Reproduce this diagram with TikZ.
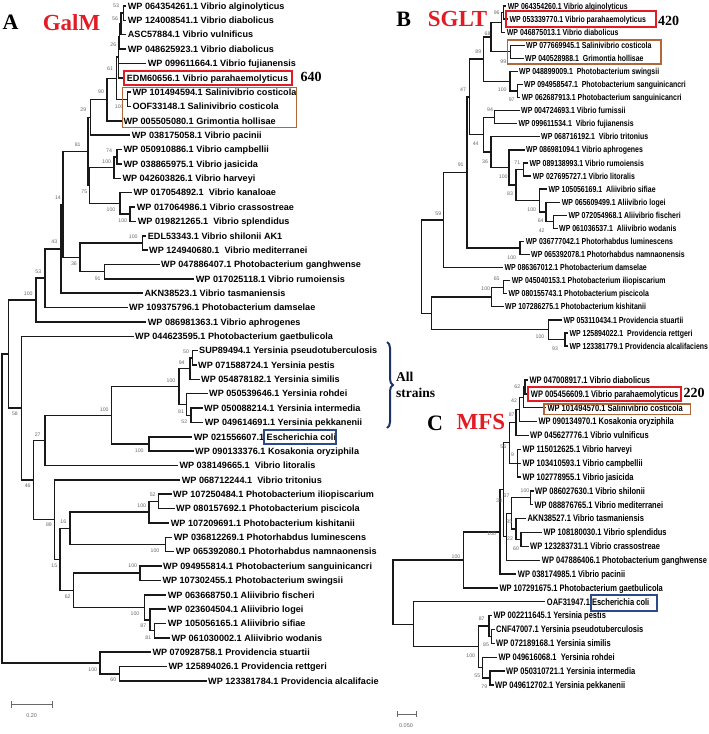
\documentclass[tikz,border=0pt]{standalone}
\usepackage{fontspec}
\setmainfont{Liberation Sans}
\newfontfamily\narrowfont[FakeStretch=0.8]{Liberation Sans}
\newfontfamily\titlefont{Liberation Serif}
\usetikzlibrary{arrows,decorations.pathreplacing}

\definecolor{galred}{RGB}{226,28,36}
\definecolor{boxbrown}{RGB}{176,104,56}
\definecolor{boxblue}{RGB}{44,74,138}
\definecolor{bracenavy}{RGB}{28,50,98}
\definecolor{bootgray}{RGB}{105,105,105}
\definecolor{treeline}{RGB}{25,25,25}

\begin{document}
\begin{tikzpicture}[x=1pt,y=-1pt]
    \tikzset{
      leafa/.style={anchor=west,inner xsep=2pt,inner ysep=0pt,text height=6.5pt,text depth=0pt,font=\fontsize{9.1}{10}\selectfont\bfseries},
      leafb/.style={leafa,text height=6.2pt,font=\narrowfont\bfseries\fontsize{8.7}{10}\selectfont},
      leafc/.style={leafa,text height=6.7pt,font=\narrowfont\bfseries\fontsize{9.4}{10}\selectfont},
      boot/.style={inner sep=0pt,text=bootgray,font=\fontsize{5.2}{6}\selectfont},
      brancha/.style={draw=treeline,line width=1.5pt,line cap=rect},
      branchb/.style={brancha,line width=1.3pt},
      redbox/.style={draw=galred,line width=2pt},
      brownbox/.style={draw=boxbrown,line width=1.2pt},
      bluebox/.style={draw=boxblue,line width=2pt},
      paneltitle/.style={inner sep=0pt,font=\titlefont\bfseries\fontsize{22}{22}\selectfont},
      genetitle/.style={inner sep=0pt,text=galred,font=\titlefont\bfseries\fontsize{23}{23}\selectfont},
      countnum/.style={inner sep=0pt,font=\titlefont\bfseries\fontsize{14}{14}\selectfont},
      strains/.style={anchor=west,inner sep=0pt,align=left,font=\titlefont\bfseries\fontsize{13.5}{16}\selectfont},
      scalebar/.style={|-|,draw=bootgray,line width=0.6pt},
      scaletext/.style={inner sep=0pt,text=bootgray,font=\fontsize{5.5}{6}\selectfont}
    }
    \useasboundingbox (0,0) rectangle (709,734);

    % panel A: GalM
    \node[paneltitle](tA) at (10.5,22){A};
    \node[genetitle](tGalM) at (71.5,23){GalM};

    \node[leafa](la1) at (125.7,6){WP 064354261.1 Vibrio alginolyticus};
    \node[leafa](la2) at (125.7,20.4){WP 124008541.1 Vibrio diabolicus};
    \node[leafa](la3) at (125.7,34.7){ASC57884.1 Vibrio vulnificus};
    \node[leafa](la4) at (125.7,49.1){WP 048625923.1 Vibrio diabolicus};
    \node[leafa](la5) at (145.7,63.4){WP 099611664.1 Vibrio fujianensis};
    \node[leafa](la6) at (124.7,77.8){EDM60656.1 Vibrio parahaemolyticus};
    \node[leafa](la7) at (130.3,92.2){WP 101494594.1 Salinivibrio costicola};
    \node[leafa](la8) at (130.3,106.5){OOF33148.1 Salinivibrio costicola};
    \node[leafa](la9) at (121.3,120.9){WP 005505080.1 Grimontia hollisae};
    \node[leafa](la10) at (129.7,135.2){WP 038175058.1 Vibrio pacinii};
    \node[leafa](la11) at (121.3,149.6){WP 050910886.1 Vibrio campbellii};
    \node[leafa](la12) at (121.3,164){WP 038865975.1 Vibrio jasicida};
    \node[leafa](la13) at (120.3,178.3){WP 042603826.1 Vibrio harveyi};
    \node[leafa](la14) at (131.3,192.7){WP 017054892.1\ \ Vibrio kanaloae};
    \node[leafa](la15) at (134.7,207){WP 017064986.1 Vibrio crassostreae};
    \node[leafa](la16) at (135.7,221.4){WP 019821265.1\ \ Vibrio splendidus};
    \node[leafa](la17) at (145.7,235.8){EDL53343.1 Vibrio shilonii AK1};
    \node[leafa](la18) at (147,250.1){WP 124940680.1\ \ Vibrio mediterranei};
    \node[leafa](la19) at (159,264.5){WP 047886407.1 Photobacterium ganghwense};
    \node[leafa](la20) at (193.7,278.8){WP 017025118.1 Vibrio rumoiensis};
    \node[leafa](la21) at (142.3,293.2){AKN38523.1 Vibrio tasmaniensis};
    \node[leafa](la22) at (127,307.6){WP 109375796.1 Photobacterium damselae};
    \node[leafa](la23) at (145.7,321.9){WP 086981363.1 Vibrio aphrogenes};
    \node[leafa](la24) at (133,336.3){WP 044623595.1 Photobacterium gaetbulicola};
    \node[leafa](la25) at (197,350.6){SUP89494.1 Yersinia pseudotuberculosis};
    \node[leafa](la26) at (196,365){WP 071588724.1 Yersinia pestis};
    \node[leafa](la27) at (199,379.4){WP 054878182.1 Yersinia similis};
    \node[leafa](la28) at (207,393.7){WP 050539646.1 Yersinia rohdei};
    \node[leafa](la29) at (202,408.1){WP 050088214.1 Yersinia intermedia};
    \node[leafa](la30) at (202.7,422.4){WP 049614691.1 Yersinia pekkanenii};
    \node[leafa](la31) at (191.7,436.8){WP 021556607.1 Escherichia coli};
    \node[leafa](la32) at (193,451.2){WP 090133376.1 Kosakonia oryziphila};
    \node[leafa](la33) at (177.3,465.5){WP 038149665.1\ \ Vibrio litoralis};
    \node[leafa](la34) at (179.7,479.9){WP 068712244.1\ \ Vibrio tritonius};
    \node[leafa](la35) at (171,494.2){WP 107250484.1 Photobacterium iliopiscarium};
    \node[leafa](la36) at (174,508.6){WP 080157692.1 Photobacterium piscicola};
    \node[leafa](la37) at (168.7,523){WP 107209691.1 Photobacterium kishitanii};
    \node[leafa](la38) at (171.7,537.3){WP 036812269.1 Photorhabdus luminescens};
    \node[leafa](la39) at (173.7,551.7){WP 065392080.1 Photorhabdus namnaonensis};
    \node[leafa](la40) at (161,566){WP 094955814.1 Photobacterium sanguinicancri};
    \node[leafa](la41) at (160.3,580.4){WP 107302455.1 Photobacterium swingsii};
    \node[leafa](la42) at (165.7,594.8){WP 063668750.1 Aliivibrio fischeri};
    \node[leafa](la43) at (165.7,609.1){WP 023604504.1 Aliivibrio logei};
    \node[leafa](la44) at (165.7,623.5){WP 105056165.1 Aliivibrio sifiae};
    \node[leafa](la45) at (169.3,637.8){WP 061030002.1 Aliivibrio wodanis};
    \node[leafa](la46) at (150.3,652.2){WP 070928758.1 Providencia stuartii};
    \node[leafa](la47) at (166.3,666.6){WP 125894026.1 Providencia rettgeri};
    \node[leafa](la48) at (206,680.9){WP 123381784.1 Providencia alcalifacie};

    \coordinate (a12) at (123.3,13.2);
    \coordinate (a123) at (121,24);
    \coordinate (a1234) at (119.5,36.5);
    \coordinate (aA) at (118.3,57.2);
    \coordinate (a78) at (127.5,99.35);
    \coordinate (a61) at (116.7,78.3);
    \coordinate (a90) at (107,99.6);
    \coordinate (a29) at (90.5,117.4);
    \coordinate (a1112) at (117,156.8);
    \coordinate (aHar) at (114,167.55);
    \coordinate (a1516) at (130,214.2);
    \coordinate (aKan) at (120,203.45);
    \coordinate (a75) at (89.5,185.5);
    \coordinate (a81) at (88,151.45);
    \coordinate (a1718) at (142.3,242.95);
    \coordinate (a1920) at (104.3,271.65);
    \coordinate (a36) at (80,257.3);
    \coordinate (a14) at (63,204.4);
    \coordinate (a43) at (61,248.8);
    \coordinate (a53) at (45,278.2);
    \coordinate (a100) at (36,300.05);
    \coordinate (a2526) at (192.7,357.8);
    \coordinate (a2527) at (190,368.6);
    \coordinate (a2930) at (191,415.25);
    \coordinate (a2830) at (186.7,404.5);
    \coordinate (aYer) at (179,386.55);
    \coordinate (aEK) at (149,444);
    \coordinate (aYE) at (111.7,415.3);
    \coordinate (a27) at (45,440.4);
    \coordinate (a3536) at (158.3,501.4);
    \coordinate (aPis) at (149,512.2);
    \coordinate (aPhr) at (165.7,544.5);
    \coordinate (a16) at (70,528.35);
    \coordinate (a4041) at (140,573.2);
    \coordinate (a4445) at (154.3,630.65);
    \coordinate (a87) at (150,619.9);
    \coordinate (aAli) at (144.3,607.35);
    \coordinate (a62) at (73.3,590.3);
    \coordinate (a15) at (60,559.3);
    \coordinate (a89) at (54.3,519.6);
    \coordinate (aY) at (33.3,480);
    \coordinate (aX) at (21.7,408.15);
    \coordinate (a58) at (8.3,354.1);
    \coordinate (a4748) at (119.3,673.75);
    \coordinate (aPro) at (100,662.95);
    \coordinate (aRoot) at (2,508.5);

    \draw[brancha] (a12) |- (la1.west) (a12) |- (la2.west);
    \draw[brancha] (a123) |- (a12) (a123) |- (la3.west);
    \draw[brancha] (a1234) |- (a123) (a1234) |- (la4.west);
    \draw[brancha] (aA) |- (a1234) (aA) |- (la5.west) (aA) |- (la6.west);
    \draw[brancha] (a78) |- (la7.west) (a78) |- (la8.west);
    \draw[brancha] (a61) |- (aA) (a61) |- (a78);
    \draw[brancha] (a90) |- (a61) (a90) |- (la9.west);
    \draw[brancha] (a29) |- (a90) (a29) |- (la10.west);
    \draw[brancha] (a1112) |- (la11.west) (a1112) |- (la12.west);
    \draw[brancha] (aHar) |- (a1112) (aHar) |- (la13.west);
    \draw[brancha] (a1516) |- (la15.west) (a1516) |- (la16.west);
    \draw[brancha] (aKan) |- (la14.west) (aKan) |- (a1516);
    \draw[brancha] (a75) |- (aHar) (a75) |- (aKan);
    \draw[brancha] (a81) |- (a29) (a81) |- (a75);
    \draw[brancha] (a1718) |- (la17.west) (a1718) |- (la18.west);
    \draw[brancha] (a1920) |- (la19.west) (a1920) |- (la20.west);
    \draw[brancha] (a36) |- (a1718) (a36) |- (a1920);
    \draw[brancha] (a14) |- (a81) (a14) |- (a36);
    \draw[brancha] (a43) |- (a14) (a43) |- (la21.west);
    \draw[brancha] (a53) |- (a43) (a53) |- (la22.west);
    \draw[brancha] (a100) |- (a53) (a100) |- (la23.west);
    \draw[brancha] (a2526) |- (la25.west) (a2526) |- (la26.west);
    \draw[brancha] (a2527) |- (a2526) (a2527) |- (la27.west);
    \draw[brancha] (a2930) |- (la29.west) (a2930) |- (la30.west);
    \draw[brancha] (a2830) |- (la28.west) (a2830) |- (a2930);
    \draw[brancha] (aYer) |- (a2527) (aYer) |- (a2830);
    \draw[brancha] (aEK) |- (la31.west) (aEK) |- (la32.west);
    \draw[brancha] (aYE) |- (aYer) (aYE) |- (aEK);
    \draw[brancha] (a27) |- (aYE) (a27) |- (la33.west);
    \draw[brancha] (a3536) |- (la35.west) (a3536) |- (la36.west);
    \draw[brancha] (aPis) |- (a3536) (aPis) |- (la37.west);
    \draw[brancha] (aPhr) |- (la38.west) (aPhr) |- (la39.west);
    \draw[brancha] (a16) |- (aPis) (a16) |- (aPhr);
    \draw[brancha] (a4041) |- (la40.west) (a4041) |- (la41.west);
    \draw[brancha] (a4445) |- (la44.west) (a4445) |- (la45.west);
    \draw[brancha] (a87) |- (la43.west) (a87) |- (a4445);
    \draw[brancha] (aAli) |- (la42.west) (aAli) |- (a87);
    \draw[brancha] (a62) |- (a4041) (a62) |- (aAli);
    \draw[brancha] (a15) |- (a16) (a15) |- (a62);
    \draw[brancha] (a89) |- (la34.west) (a89) |- (a15);
    \draw[brancha] (aY) |- (a27) (aY) |- (a89);
    \draw[brancha] (aX) |- (la24.west) (aX) |- (aY);
    \draw[brancha] (a58) |- (a100) (a58) |- (aX);
    \draw[brancha] (a4748) |- (la47.west) (a4748) |- (la48.west);
    \draw[brancha] (aPro) |- (la46.west) (aPro) |- (a4748);
    \draw[brancha] (aRoot) |- (a58) (aRoot) |- (aPro);

    \node[boot](ba1) at (116,6){53};
    \node[boot](ba2) at (115,18.3){56};
    \node[boot](ba3) at (113.3,45){26};
    \node[boot](ba4) at (110,68.3){61};
    \node[boot](ba5) at (119.3,106.7){100};
    \node[boot](ba6) at (101,91.7){90};
    \node[boot](ba7) at (83.3,110){29};
    \node[boot](ba8) at (77.7,144.3){81};
    \node[boot](ba9) at (109,150.7){74};
    \node[boot](ba10) at (106.7,161.7){100};
    \node[boot](ba11) at (84.3,191.7){75};
    \node[boot](ba12) at (58,197.5){14};
    \node[boot](ba13) at (111,210){100};
    \node[boot](ba14) at (122.7,221){100};
    \node[boot](ba15) at (133.3,236.7){100};
    \node[boot](ba16) at (54.3,241.7){43};
    \node[boot](ba17) at (74,264){36};
    \node[boot](ba18) at (97.7,278.3){91};
    \node[boot](ba19) at (38.3,271.7){53};
    \node[boot](ba20) at (28.3,293.3){100};
    \node[boot](ba21) at (186,351.7){50};
    \node[boot](ba22) at (181.7,362.3){94};
    \node[boot](ba23) at (171,380.7){100};
    \node[boot](ba24) at (104.3,409.3){100};
    \node[boot](ba25) at (15,413.3){58};
    \node[boot](ba26) at (181,411.7){81};
    \node[boot](ba27) at (184.3,421.7){52};
    \node[boot](ba28) at (37.7,434.3){27};
    \node[boot](ba29) at (139.3,450.7){100};
    \node[boot](ba30) at (27.7,486){46};
    \node[boot](ba31) at (152.7,495){52};
    \node[boot](ba32) at (141.7,506){100};
    \node[boot](ba33) at (49,525){89};
    \node[boot](ba34) at (63.3,521.7){16};
    \node[boot](ba35) at (155,550.7){100};
    \node[boot](ba36) at (54.3,566){15};
    \node[boot](ba37) at (132.7,566){100};
    \node[boot](ba38) at (67.7,596.7){62};
    \node[boot](ba39) at (135,613.3){100};
    \node[boot](ba40) at (143.3,626){87};
    \node[boot](ba41) at (148.3,637.3){81};
    \node[boot](ba42) at (92.7,669.3){100};
    \node[boot](ba43) at (113.3,679.3){60};

    \draw[redbox] (124,70.7) rectangle (291.7,85);
    \draw[brownbox] (122.3,87.3) rectangle (296.7,127.3);
    \draw[bluebox] (264,429.5) rectangle (335.7,443.5);
    \node[countnum](n640) at (311,77){640};

    \coordinate (brtop) at (387,342);
    \coordinate (brbot) at (387,428);
    \draw[draw=bracenavy,line width=2pt,decorate,decoration={brace,amplitude=6pt}] (brtop) -- (brbot);
    \node[strains](allst) at (396,385){All\\strains};

    \coordinate (sa1) at (11,704.3);
    \coordinate (sa2) at (52.7,704.3);
    \draw[scalebar] (sa1) -- (sa2);
    \node[scaletext](sal) at (31.7,716){0.20};

    % panel B: SGLT
    \node[paneltitle](tB) at (403.7,19){B};
    \node[genetitle](tSGLT) at (457.5,19){SGLT};

    \node[leafb](lb1) at (505.7,6){WP 064354260.1 Vibrio alginolyticus};
    \node[leafb](lb2) at (507.3,19.08){WP 053339770.1 Vibrio parahaemolyticus};
    \node[leafb](lb3) at (504.7,32.16){WP 046875013.1 Vibrio diabolicus};
    \node[leafb](lb4) at (524,45.24){WP 077669945.1 Salinivibrio costicola};
    \node[leafb](lb5) at (523,58.32){WP 040528988.1\ \ Grimontia hollisae};
    \node[leafb](lb6) at (517,71.4){WP 048899009.1\ \ Photobacterium swingsii};
    \node[leafb](lb7) at (522,84.48){WP 094958547.1\ \ Photobacterium sanguinicancri};
    \node[leafb](lb8) at (519.7,97.56){WP 062687913.1 Photobacterium sanguinicancri};
    \node[leafb](lb9) at (519,110.64){WP 004724693.1 Vibrio furnissii};
    \node[leafb](lb10) at (516.3,123.72){WP 099611534.1\ \ Vibrio fujianensis};
    \node[leafb](lb11) at (539,136.8){WP 068716192.1\ \ Vibrio tritonius};
    \node[leafb](lb12) at (524,149.88){WP 086981094.1 Vibrio aphrogenes};
    \node[leafb](lb13) at (527.3,162.96){WP 089138993.1 Vibrio rumoiensis};
    \node[leafb](lb14) at (530.7,176.04){WP 027695727.1 Vibrio litoralis};
    \node[leafb](lb15) at (546.3,189.12){WP 105056169.1\ \ Aliivibrio sifiae};
    \node[leafb](lb16) at (559.7,202.2){WP 065609499.1 Aliivibrio logei};
    \node[leafb](lb17) at (566.3,215.28){WP 072054968.1 Aliivibrio fischeri};
    \node[leafb](lb18) at (557,228.36){WP 061036537.1\ \ Aliivibrio wodanis};
    \node[leafb](lb19) at (523.7,241.44){WP 036777042.1 Photorhabdus luminescens};
    \node[leafb](lb20) at (529,254.52){WP 065392078.1 Photorhabdus namnaonensis};
    \node[leafb](lb21) at (502.3,267.6){WP 086367012.1 Photobacterium damselae};
    \node[leafb](lb22) at (509.7,280.68){WP 045040153.1 Photobacterium iliopiscarium};
    \node[leafb](lb23) at (506.3,293.76){WP 080155743.1 Photobacterium piscicola};
    \node[leafb](lb24) at (503,306.84){WP 107286275.1 Photobacterium kishitanii};
    \node[leafb](lb25) at (561.3,319.92){WP 053110434.1 Providencia stuartii};
    \node[leafb](lb26) at (567.3,333){WP 125894022.1\ \ Providencia rettgeri};
    \node[leafb](lb27) at (567.3,346.08){WP 123381779.1 Providencia alcalifaciens};

    \coordinate (b12) at (503.3,12.54);
    \coordinate (b123) at (501.7,22.35);
    \coordinate (b45) at (510.5,51.78);
    \coordinate (b68) at (491,37.07);
    \coordinate (b78) at (517.5,91.02);
    \coordinate (b678) at (510,81.21);
    \coordinate (b89) at (483.3,59.14);
    \coordinate (b94) at (494.3,117.18);
    \coordinate (b1314) at (523.3,169.5);
    \coordinate (b1718) at (553.3,221.82);
    \coordinate (b64) at (546,212.01);
    \coordinate (b100a) at (539.3,200.57);
    \coordinate (b83) at (516,185.03);
    \coordinate (bU) at (509,167.46);
    \coordinate (bT) at (491,152.13);
    \coordinate (bZ) at (483.3,134.66);
    \coordinate (b47) at (469.3,96.9);
    \coordinate (b1920) at (520,247.98);
    \coordinate (b91) at (467,172.44);
    \coordinate (bQ) at (443.3,220.02);
    \coordinate (b2223) at (503.3,287.22);
    \coordinate (bPis) at (491.7,297.03);
    \coordinate (b2627) at (565,339.54);
    \coordinate (bPro) at (548.3,329.73);
    \coordinate (bB2) at (431.7,313.38);
    \coordinate (bRoot) at (421.7,266.7);

    \draw[branchb] (b12) |- (lb1.west) (b12) |- (lb2.west);
    \draw[branchb] (b123) |- (b12) (b123) |- (lb3.west);
    \draw[branchb] (b45) |- (lb4.west) (b45) |- (lb5.west);
    \draw[branchb] (b68) |- (b123) (b68) |- (b45);
    \draw[branchb] (b78) |- (lb7.west) (b78) |- (lb8.west);
    \draw[branchb] (b678) |- (lb6.west) (b678) |- (b78);
    \draw[branchb] (b89) |- (b68) (b89) |- (b678);
    \draw[branchb] (b94) |- (lb9.west) (b94) |- (lb10.west);
    \draw[branchb] (b1314) |- (lb13.west) (b1314) |- (lb14.west);
    \draw[branchb] (b1718) |- (lb17.west) (b1718) |- (lb18.west);
    \draw[branchb] (b64) |- (lb16.west) (b64) |- (b1718);
    \draw[branchb] (b100a) |- (lb15.west) (b100a) |- (b64);
    \draw[branchb] (b83) |- (b1314) (b83) |- (b100a);
    \draw[branchb] (bU) |- (lb12.west) (bU) |- (b83);
    \draw[branchb] (bT) |- (lb11.west) (bT) |- (bU);
    \draw[branchb] (bZ) |- (b94) (bZ) |- (bT);
    \draw[branchb] (b47) |- (b89) (b47) |- (bZ);
    \draw[branchb] (b1920) |- (lb19.west) (b1920) |- (lb20.west);
    \draw[branchb] (b91) |- (b47) (b91) |- (b1920);
    \draw[branchb] (bQ) |- (b91) (bQ) |- (lb21.west);
    \draw[branchb] (b2223) |- (lb22.west) (b2223) |- (lb23.west);
    \draw[branchb] (bPis) |- (b2223) (bPis) |- (lb24.west);
    \draw[branchb] (b2627) |- (lb26.west) (b2627) |- (lb27.west);
    \draw[branchb] (bPro) |- (lb25.west) (bPro) |- (b2627);
    \draw[branchb] (bB2) |- (bPis) (bB2) |- (bPro);
    \draw[branchb] (bRoot) |- (bQ) (bRoot) |- (bB2);

    \node[boot](bb1) at (496.7,12.7){96};
    \node[boot](bb2) at (487.5,33.8){68};
    \node[boot](bb3) at (478.3,51.7){89};
    \node[boot](bb4) at (503.3,61.7){99};
    \node[boot](bb5) at (502.3,90){100};
    \node[boot](bb6) at (511.7,99.3){97};
    \node[boot](bb7) at (463,90){47};
    \node[boot](bb8) at (490,110){94};
    \node[boot](bb9) at (475.7,144){44};
    \node[boot](bb10) at (485,161.7){36};
    \node[boot](bb11) at (517.3,162.7){71};
    \node[boot](bb12) at (460.7,165){91};
    \node[boot](bb13) at (503.3,176.7){100};
    \node[boot](bb14) at (510,194){83};
    \node[boot](bb15) at (531.7,209.3){100};
    \node[boot](bb16) at (540.7,220.7){64};
    \node[boot](bb17) at (541.7,230.7){42};
    \node[boot](bb18) at (511.7,257.3){100};
    \node[boot](bb19) at (438.3,213.3){59};
    \node[boot](bb20) at (496.7,278.3){65};
    \node[boot](bb21) at (485.7,288.3){100};
    \node[boot](bb22) at (540,336.7){100};
    \node[boot](bb23) at (555,348.3){93};

    \draw[redbox] (505.7,11) rectangle (656,26.7);
    \draw[brownbox] (507.7,40) rectangle (661,64);
    \node[countnum](n420) at (668.5,20.5){420};

    % panel C: MFS
    \node[paneltitle](tC) at (435,423){C};
    \node[genetitle](tMFS) at (481,422){MFS};

    \node[leafc](lc1) at (527.3,380){WP 047008917.1 Vibrio diabolicus};
    \node[leafc](lc2) at (528.7,393.86){WP 005456609.1 Vibrio parahaemolyticus};
    \node[leafc](lc3) at (545.3,407.72){WP 101494570.1 Salinivibrio costicola};
    \node[leafc](lc4) at (536.3,421.58){WP 090134970.1 Kosakonia oryziphila};
    \node[leafc](lc5) at (528,435.44){WP 045627776.1 Vibrio vulnificus};
    \node[leafc](lc6) at (520.3,449.3){WP 115012625.1 Vibrio harveyi};
    \node[leafc](lc7) at (520.3,463.16){WP 103410593.1 Vibrio campbellii};
    \node[leafc](lc8) at (520.3,477.02){WP 102778955.1 Vibrio jasicida};
    \node[leafc](lc9) at (533,490.88){WP 086027630.1 Vibrio shilonii};
    \node[leafc](lc10) at (532.3,504.74){WP 088876765.1 Vibrio mediterranei};
    \node[leafc](lc11) at (525.3,518.6){AKN38527.1 Vibrio tasmaniensis};
    \node[leafc](lc12) at (541.3,532.46){WP 108180030.1 Vibrio splendidus};
    \node[leafc](lc13) at (528,546.32){WP 123283731.1 Vibrio crassostreae};
    \node[leafc](lc14) at (539.7,560.18){WP 047886406.1 Photobacterium ganghwense};
    \node[leafc](lc15) at (515.7,574.04){WP 038174985.1 Vibrio pacinii};
    \node[leafc](lc16) at (497.3,587.9){WP 107291675.1 Photobacterium gaetbulicola};
    \node[leafc](lc17) at (544.7,601.76){OAF31947.1 Escherichia coli};
    \node[leafc](lc18) at (491.3,615.62){WP 002211645.1 Yersinia pestis};
    \node[leafc](lc19) at (494,629.48){CNF47007.1 Yersinia pseudotuberculosis};
    \node[leafc](lc20) at (494,643.34){WP 072189168.1 Yersinia similis};
    \node[leafc](lc21) at (496.3,657.2){WP 049616068.1\ \ Yersinia rohdei};
    \node[leafc](lc22) at (504,671.06){WP 050310721.1 Yersinia intermedia};
    \node[leafc](lc23) at (493,684.92){WP 049612702.1 Yersinia pekkanenii};

    \coordinate (c12) at (525,386.93);
    \coordinate (c123) at (523.3,397.33);
    \coordinate (c1234) at (519.3,409.45);
    \coordinate (c15) at (516,422.45);
    \coordinate (c678) at (517.3,463.16);
    \coordinate (c56) at (509.3,442.8);
    \coordinate (c910) at (530.7,497.81);
    \coordinate (c1213) at (521,539.39);
    \coordinate (c1113) at (516,528.99);
    \coordinate (c913) at (511.7,513.4);
    \coordinate (c914) at (506.7,536.79);
    \coordinate (c38) at (503.3,489.8);
    \coordinate (c100b) at (500,531.92);
    \coordinate (cMain) at (463.3,559.91);
    \coordinate (c1920) at (491.7,636.41);
    \coordinate (c1820) at (489,626.02);
    \coordinate (c2223) at (490,677.99);
    \coordinate (c2123) at (482.7,667.6);
    \coordinate (cYer) at (478.3,646.81);
    \coordinate (cEY) at (413.3,624.29);
    \coordinate (cRoot) at (393,592.1);

    \draw[branchb] (c12) |- (lc1.west) (c12) |- (lc2.west);
    \draw[branchb] (c123) |- (c12) (c123) |- (lc3.west);
    \draw[branchb] (c1234) |- (c123) (c1234) |- (lc4.west);
    \draw[branchb] (c15) |- (c1234) (c15) |- (lc5.west);
    \draw[branchb] (c678) |- (lc6.west) (c678) |- (lc7.west) (c678) |- (lc8.west);
    \draw[branchb] (c56) |- (c15) (c56) |- (c678);
    \draw[branchb] (c910) |- (lc9.west) (c910) |- (lc10.west);
    \draw[branchb] (c1213) |- (lc12.west) (c1213) |- (lc13.west);
    \draw[branchb] (c1113) |- (lc11.west) (c1113) |- (c1213);
    \draw[branchb] (c913) |- (c910) (c913) |- (c1113);
    \draw[branchb] (c914) |- (c913) (c914) |- (lc14.west);
    \draw[branchb] (c38) |- (c56) (c38) |- (c914);
    \draw[branchb] (c100b) |- (c38) (c100b) |- (lc15.west);
    \draw[branchb] (cMain) |- (c100b) (cMain) |- (lc16.west);
    \draw[branchb] (c1920) |- (lc19.west) (c1920) |- (lc20.west);
    \draw[branchb] (c1820) |- (lc18.west) (c1820) |- (c1920);
    \draw[branchb] (c2223) |- (lc22.west) (c2223) |- (lc23.west);
    \draw[branchb] (c2123) |- (lc21.west) (c2123) |- (c2223);
    \draw[branchb] (cYer) |- (c1820) (cYer) |- (c2123);
    \draw[branchb] (cEY) |- (lc17.west) (cEY) |- (cYer);
    \draw[branchb] (cRoot) |- (cMain) (cRoot) |- (cEY);

    \node[boot](bc1) at (517.3,386.7){62};
    \node[boot](bc2) at (514,400.7){42};
    \node[boot](bc3) at (511.7,415){87};
    \node[boot](bc4) at (503.3,446.7){56};
    \node[boot](bc5) at (512.5,455){9};
    \node[boot](bc6) at (525,491){100};
    \node[boot](bc7) at (499,501){38};
    \node[boot](bc8) at (506.5,496){37};
    \node[boot](bc9) at (509.3,521.7){35};
    \node[boot](bc10) at (510,538.3){22};
    \node[boot](bc11) at (516,548.3){60};
    \node[boot](bc12) at (491.7,533.3){100};
    \node[boot](bc13) at (456,556.7){100};
    \node[boot](bc14) at (481.7,619){87};
    \node[boot](bc15) at (486,645){85};
    \node[boot](bc16) at (470.7,656){100};
    \node[boot](bc17) at (477.3,676){55};
    \node[boot](bc18) at (484.3,686.7){79};

    \draw[redbox] (527.7,387.3) rectangle (680.7,401);
    \draw[brownbox] (544,404) rectangle (690.7,414.3);
    \draw[bluebox] (590.7,595) rectangle (657.3,610.7);
    \node[countnum](n220) at (694,393){220};

    \coordinate (sc1) at (397,714);
    \coordinate (sc2) at (416.7,714);
    \draw[scalebar] (sc1) -- (sc2);
    \node[scaletext](scl) at (406,726){0.050};

\end{tikzpicture}
\end{document}
